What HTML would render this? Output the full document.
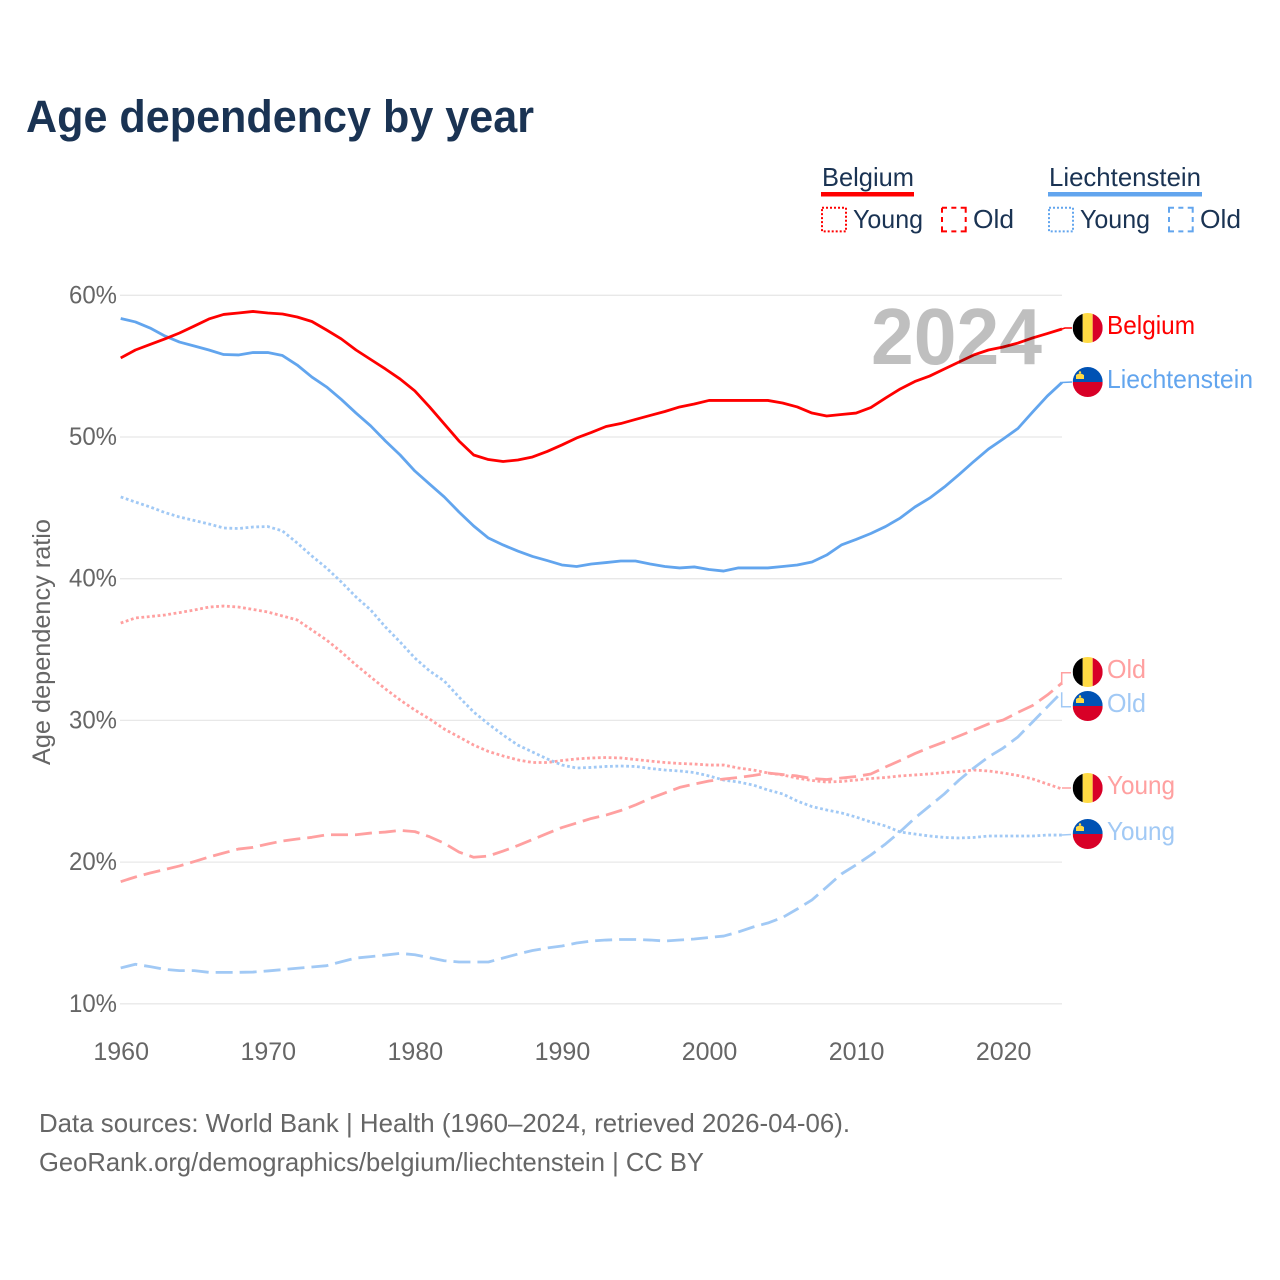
<!DOCTYPE html>
<html lang="en">
<head>
<meta charset="utf-8">
<title>Age dependency by year</title>
<style>
html,body{margin:0;padding:0;background:#fff;}
svg{display:block;}
text{font-family:"Liberation Sans",sans-serif;}
</style>
</head>
<body>
<svg id="chart" xmlns="http://www.w3.org/2000/svg" width="1280" height="1280" viewBox="0 0 1280 1280">
  <defs>
    <clipPath id="flag-clip"><circle cx="0" cy="0" r="15"></circle></clipPath>
    <g id="flag-be">
      <g clip-path="url(#flag-clip)">
        <rect x="-15" y="-15" width="10" height="30" fill="#000000"></rect>
        <rect x="-5" y="-15" width="10" height="30" fill="#ffda44"></rect>
        <rect x="5" y="-15" width="10" height="30" fill="#d80027"></rect>
      </g>
    </g>
    <g id="flag-li">
      <g clip-path="url(#flag-clip)">
        <rect x="-15" y="-15" width="30" height="15" fill="#0052b4"></rect>
        <rect x="-15" y="0" width="30" height="15" fill="#d80027"></rect>
        <path d="M-11.7 -3 L-3.7 -3 L-3.7 -7 Q-7.7 -10 -11.7 -7 Z" fill="#ffda44"></path>
        <circle cx="-7.7" cy="-9.6" r="1.2" fill="#ffda44"></circle>
      </g>
    </g>
  </defs>

  <rect x="0" y="0" width="1280" height="1280" fill="#ffffff"></rect>

  <text x="26" y="132" font-size="45" font-weight="700" fill="#1a3353" textLength="508" lengthAdjust="spacingAndGlyphs">Age dependency by year</text>

  <g font-size="26" fill="#1a3353">
    <g>
      <text x="822" y="186" textLength="92" lengthAdjust="spacingAndGlyphs">Belgium</text>
      <rect x="821" y="192" width="93" height="4.5" fill="#ff0000"></rect>
      <rect x="822" y="207.7" width="24" height="23.7" fill="none" stroke="#ff0000" stroke-width="2" stroke-dasharray="2 2"></rect>
      <text x="853" y="228" textLength="70" lengthAdjust="spacingAndGlyphs">Young</text>
      <rect x="942" y="207.7" width="23.7" height="23.7" fill="none" stroke="#ff0000" stroke-width="2" stroke-dasharray="5 4.35 5 4.35 10 4.35 5 4.35 10 4.35 5 4.35 10 4.35 5 4.35 5"></rect>
      <text x="973" y="228" textLength="41" lengthAdjust="spacingAndGlyphs">Old</text>
    </g>
    <g>
      <text x="1049" y="186" textLength="152" lengthAdjust="spacingAndGlyphs">Liechtenstein</text>
      <rect x="1048" y="192" width="154" height="4.5" fill="#62a5ee"></rect>
      <rect x="1049" y="207.7" width="24" height="23.7" fill="none" stroke="#62a5ee" stroke-width="2" stroke-dasharray="2 2"></rect>
      <text x="1080" y="228" textLength="70" lengthAdjust="spacingAndGlyphs">Young</text>
      <rect x="1169" y="207.7" width="23.7" height="23.7" fill="none" stroke="#62a5ee" stroke-width="2" stroke-dasharray="5 4.35 5 4.35 10 4.35 5 4.35 10 4.35 5 4.35 10 4.35 5 4.35 5"></rect>
      <text x="1200" y="228" textLength="41" lengthAdjust="spacingAndGlyphs">Old</text>
    </g>
  </g>

  <g id="grid"></g>
  <g id="y-ticks"></g>
  <g id="x-ticks"></g>
  <text transform="translate(50 642) rotate(-90)" text-anchor="middle" font-size="25" fill="#666666" textLength="246" lengthAdjust="spacingAndGlyphs">Age dependency ratio</text>
  <g id="series"></g>
  <text x="871" y="364" font-size="80" font-weight="700" fill="#000000" fill-opacity="0.25" textLength="171" lengthAdjust="spacingAndGlyphs">2024</text>

  <g font-size="26">
    <polyline points="1062,329 1065,328 1072,328" fill="none" stroke="#ff0000" stroke-width="1.5"></polyline>
    <use href="#flag-be" x="1087.7" y="328"></use>
    <text x="1107" y="334" fill="#ff0000" textLength="88" lengthAdjust="spacingAndGlyphs">Belgium</text>

    <polyline points="1062,382.5 1072,382" fill="none" stroke="#62a5ee" stroke-width="1.5"></polyline>
    <use href="#flag-li" x="1087.7" y="382"></use>
    <text x="1107" y="388" fill="#62a5ee" textLength="146" lengthAdjust="spacingAndGlyphs">Liechtenstein</text>

    <polyline points="1061.7,685 1061.7,672.7 1071,672.7" fill="none" stroke="#ffa0a0" stroke-width="1.5"></polyline>
    <use href="#flag-be" x="1087.7" y="672"></use>
    <text x="1107" y="678" fill="#ffa0a0" textLength="39" lengthAdjust="spacingAndGlyphs">Old</text>

    <polyline points="1061.7,692.3 1061.7,706.7 1071,706.7" fill="none" stroke="#a1c9f5" stroke-width="1.5"></polyline>
    <use href="#flag-li" x="1087.7" y="706"></use>
    <text x="1107" y="712" fill="#a1c9f5" textLength="39" lengthAdjust="spacingAndGlyphs">Old</text>

    <polyline points="1062,788 1071,788" fill="none" stroke="#ffa0a0" stroke-width="1.5"></polyline>
    <use href="#flag-be" x="1087.7" y="788"></use>
    <text x="1107" y="794" fill="#ffa0a0" textLength="68" lengthAdjust="spacingAndGlyphs">Young</text>

    <polyline points="1062,835 1071,834.5" fill="none" stroke="#a1c9f5" stroke-width="1.5"></polyline>
    <use href="#flag-li" x="1087.7" y="834"></use>
    <text x="1107" y="840" fill="#a1c9f5" textLength="68" lengthAdjust="spacingAndGlyphs">Young</text>
  </g>

  <g font-size="26" fill="#666666">
    <text x="39" y="1132" textLength="811" lengthAdjust="spacingAndGlyphs">Data sources: World Bank | Health (1960–2024, retrieved 2026-04-06).</text>
    <text x="39" y="1171" textLength="665" lengthAdjust="spacingAndGlyphs">GeoRank.org/demographics/belgium/liechtenstein | CC BY</text>
  </g>
</svg>

<script>
const years = [1960,1961,1962,1963,1964,1965,1966,1967,1968,1969,1970,1971,1972,1973,1974,1975,1976,1977,1978,1979,1980,1981,1982,1983,1984,1985,1986,1987,1988,1989,1990,1991,1992,1993,1994,1995,1996,1997,1998,1999,2000,2001,2002,2003,2004,2005,2006,2007,2008,2009,2010,2011,2012,2013,2014,2015,2016,2017,2018,2019,2020,2021,2022,2023,2024];

const belgiumTotal = [55.58,56.14,56.53,56.92,57.34,57.83,58.33,58.65,58.75,58.86,58.75,58.68,58.47,58.15,57.55,56.92,56.14,55.47,54.80,54.09,53.25,52.12,50.92,49.72,48.73,48.41,48.27,48.38,48.59,48.98,49.44,49.93,50.32,50.74,50.95,51.24,51.52,51.80,52.12,52.33,52.58,52.58,52.58,52.58,52.58,52.40,52.12,51.69,51.48,51.59,51.69,52.08,52.75,53.39,53.92,54.30,54.80,55.29,55.79,56.14,56.35,56.63,56.99,57.30,57.62];

const liechtensteinTotal = [58.36,58.12,57.69,57.13,56.70,56.42,56.14,55.82,55.79,55.96,55.96,55.75,55.08,54.23,53.53,52.65,51.69,50.78,49.72,48.73,47.60,46.68,45.77,44.71,43.72,42.87,42.38,41.95,41.57,41.28,40.97,40.86,41.04,41.14,41.25,41.25,41.04,40.86,40.76,40.83,40.65,40.54,40.76,40.76,40.76,40.86,40.97,41.18,41.67,42.38,42.77,43.19,43.68,44.28,45.06,45.69,46.47,47.35,48.27,49.15,49.86,50.60,51.76,52.89,53.85];

const belgiumYoung = [36.87,37.23,37.33,37.44,37.61,37.79,38.00,38.07,38.00,37.83,37.65,37.37,37.09,36.38,35.67,34.83,33.91,33.06,32.22,31.44,30.73,30.10,29.39,28.83,28.26,27.81,27.49,27.21,27.03,27.03,27.17,27.28,27.35,27.38,27.35,27.24,27.13,27.03,26.96,26.92,26.85,26.85,26.64,26.50,26.29,26.15,25.93,25.76,25.65,25.69,25.79,25.90,25.97,26.08,26.15,26.22,26.32,26.39,26.50,26.43,26.29,26.11,25.87,25.51,25.16];

const liechtensteinYoung = [45.77,45.41,45.06,44.67,44.35,44.11,43.86,43.58,43.54,43.65,43.68,43.37,42.52,41.60,40.75,39.77,38.71,37.79,36.59,35.53,34.40,33.49,32.78,31.65,30.59,29.75,28.97,28.26,27.77,27.28,26.85,26.64,26.68,26.75,26.78,26.75,26.61,26.50,26.43,26.32,26.08,25.79,25.65,25.44,25.09,24.81,24.31,23.92,23.68,23.47,23.18,22.83,22.55,22.12,21.98,21.84,21.74,21.70,21.74,21.84,21.84,21.84,21.84,21.91,21.91];

const belgiumOld = [18.62,18.95,19.23,19.48,19.73,20.04,20.36,20.64,20.92,21.04,21.28,21.49,21.63,21.75,21.93,21.93,21.93,22.05,22.12,22.24,22.15,21.79,21.33,20.71,20.34,20.43,20.78,21.17,21.59,22.02,22.44,22.76,23.08,23.32,23.64,24.03,24.49,24.88,25.27,25.51,25.72,25.86,25.97,26.11,26.29,26.18,26.08,25.90,25.83,25.93,26.04,26.22,26.71,27.17,27.66,28.09,28.48,28.90,29.32,29.75,30.03,30.56,31.05,31.79,32.64];

const liechtensteinOld = [12.53,12.79,12.62,12.43,12.34,12.34,12.22,12.22,12.22,12.24,12.32,12.41,12.51,12.60,12.69,12.97,13.23,13.33,13.44,13.56,13.46,13.25,13.04,12.95,12.95,12.95,13.23,13.51,13.76,13.94,14.08,14.29,14.43,14.50,14.54,14.54,14.50,14.43,14.50,14.57,14.68,14.78,15.07,15.42,15.70,16.09,16.69,17.33,18.24,19.16,19.80,20.50,21.28,22.15,23.11,23.96,24.81,25.79,26.64,27.42,28.05,28.83,29.89,30.95,32.00];

const yTickValues = [10,20,30,40,50,60];
const yTickLabels = ["10%","20%","30%","40%","50%","60%"];
const xTickValues = [1960,1970,1980,1990,2000,2010,2020];
const xTickLabels = ["1960","1970","1980","1990","2000","2010","2020"];

const SVG_NS = "http://www.w3.org/2000/svg";
const PLOT_LEFT = 120.7, PLOT_RIGHT = 1062;
const Y_TOP = 295.3, Y_PER_UNIT = 14.17;

function xScale(year) {
  return PLOT_LEFT + (year - years[0]) * (PLOT_RIGHT - PLOT_LEFT) / (years[years.length - 1] - years[0]);
}
function yScale(v) {
  return Y_TOP + (60 - v) * Y_PER_UNIT;
}
function make(tag, parent, attrs) {
  const el = document.createElementNS(SVG_NS, tag);
  Object.keys(attrs).forEach(function (k) { el.setAttribute(k, attrs[k]); });
  parent.appendChild(el);
  return el;
}

const gridGroup = document.getElementById("grid");
const yGroup = document.getElementById("y-ticks");
yTickValues.forEach(function (v, i) {
  const line = make("line", gridGroup, { x1: 120, x2: PLOT_RIGHT, y1: yScale(v), y2: yScale(v), stroke: "#e8e8e8", "stroke-width": 1.3 });
  
  
  const t = make("text", yGroup, { x: 117, y: yScale(v) + 8, "text-anchor": "end", "font-size": 25, fill: "#666666", textLength: 48, lengthAdjust: "spacingAndGlyphs" });
  t.textContent = yTickLabels[i];
  
  
});

const xGroup = document.getElementById("x-ticks");
xTickValues.forEach(function (v, i) {
  const t = make("text", xGroup, { x: xScale(v) + 0.5, y: 1060, "text-anchor": "middle", "font-size": 25, fill: "#666666" });
  t.textContent = xTickLabels[i];
  
  
});

const seriesGroup = document.getElementById("series");
function drawSeries(values, color, width, dash, name) {
  const pts = values.map(function (v, i) { return xScale(years[i]).toFixed(2) + "," + yScale(v).toFixed(2); }).join(" ");
  const attrs = { points: pts, fill: "none", stroke: color, "stroke-width": width, "stroke-linejoin": "round" };
  if (dash) { attrs["stroke-dasharray"] = dash; }
  const line = make("polyline", seriesGroup, attrs);
  
  
}
drawSeries(belgiumYoung, "#ffa0a0", 2.8, "2.8 2.6", "line-belgium-young");
drawSeries(liechtensteinYoung, "#a1c9f5", 2.8, "2.8 2.6", "line-liechtenstein-young");
drawSeries(belgiumOld, "#ffa0a0", 2.8, "17 7", "line-belgium-old");
drawSeries(liechtensteinOld, "#a1c9f5", 2.8, "17 7", "line-liechtenstein-old");
drawSeries(liechtensteinTotal, "#62a5ee", 2.8, null, "line-liechtenstein-total");
drawSeries(belgiumTotal, "#ff0000", 2.8, null, "line-belgium-total");
</script>
</body>
</html>
